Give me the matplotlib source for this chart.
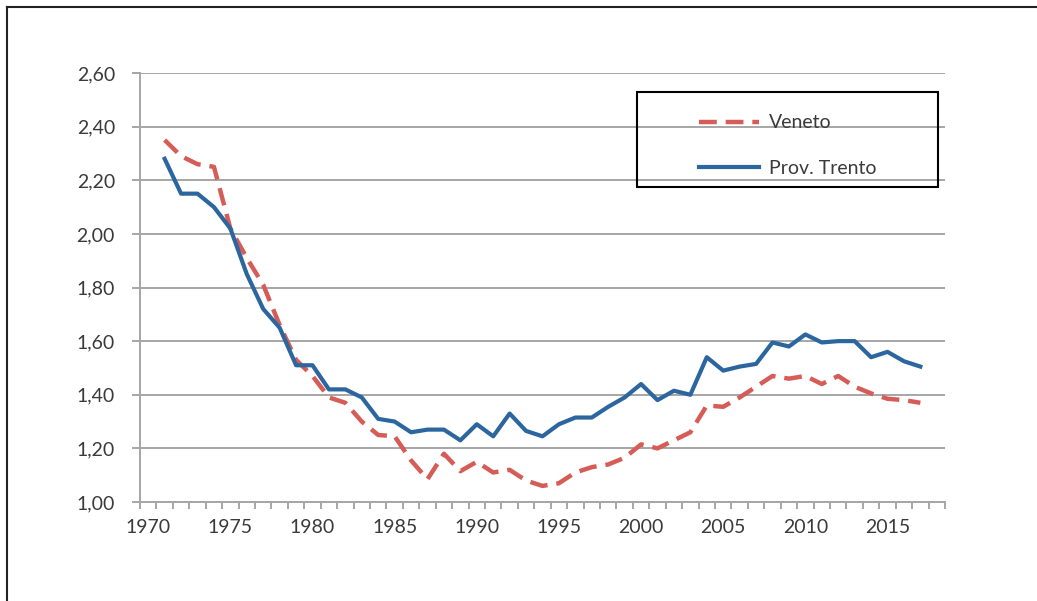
import matplotlib
matplotlib.use("Agg")
import matplotlib.pyplot as plt
from matplotlib.lines import Line2D
from matplotlib.patches import Rectangle
from matplotlib.ticker import FixedLocator

plt.rcParams['font.family'] = ['Lato', 'DejaVu Sans']

years = list(range(1971, 2018))

veneto = [2.35, 2.29, 2.26, 2.25, 2.02, 1.91, 1.81, 1.66, 1.53, 1.47,
          1.39, 1.37, 1.30, 1.25, 1.245, 1.155, 1.085, 1.18, 1.115, 1.15,
          1.11, 1.12, 1.08, 1.06, 1.07, 1.11, 1.13, 1.14, 1.165, 1.215,
          1.20, 1.23, 1.26, 1.36, 1.355, 1.39, 1.43, 1.47, 1.46, 1.47,
          1.44, 1.47, 1.43, 1.405, 1.385, 1.38, 1.37]

trento = [2.28, 2.15, 2.15, 2.10, 2.02, 1.85, 1.72, 1.65, 1.51, 1.51,
          1.42, 1.42, 1.39, 1.31, 1.30, 1.26, 1.27, 1.27, 1.23, 1.29,
          1.245, 1.33, 1.265, 1.245, 1.29, 1.315, 1.315, 1.355, 1.39, 1.44,
          1.38, 1.415, 1.40, 1.54, 1.49, 1.505, 1.515, 1.595, 1.58, 1.625,
          1.595, 1.60, 1.60, 1.54, 1.56, 1.525, 1.505]

y_ticks = [1.0, 1.2, 1.4, 1.6, 1.8, 2.0, 2.2, 2.4, 2.6]
x_labels = [1970, 1975, 1980, 1985, 1990, 1995, 2000, 2005, 2010, 2015]

grid_col = '#a6a6a6'
text_col = '#3a3a3a'

fig = plt.figure(figsize=(10.37, 6.01), dpi=100)
ax = fig.add_axes([140 / 1037, 1 - 502 / 601, 805 / 1037, 429 / 601])

ax.plot(years, veneto, color='#d65c58', lw=3.2, dashes=(4.0, 2.0),
        label='Veneto', zorder=3)
ax.plot(years, trento, color='#2c669e', lw=3.0, label='Prov. Trento',
        zorder=4)

ax.set_xlim(1969.5, 2018.5)
ax.set_ylim(1.0, 2.6)

ax.set_yticks(y_ticks)
ax.set_yticklabels([('%.2f' % v).replace('.', ',') for v in y_ticks])
ax.set_xticks(x_labels)
ax.set_xticklabels([str(v) for v in x_labels])
ax.xaxis.set_minor_locator(FixedLocator([1969.5 + i for i in range(50)]))

ax.yaxis.grid(True, color=grid_col, lw=1.4)
ax.set_axisbelow(True)

for s in ['top', 'right']:
    ax.spines[s].set_visible(False)
for s in ['left', 'bottom']:
    ax.spines[s].set_color(grid_col)
    ax.spines[s].set_linewidth(1.4)

ax.tick_params(axis='y', length=6, width=1.4, color=grid_col, pad=12,
               labelsize=14, labelcolor=text_col)
ax.tick_params(axis='x', which='major', length=0, pad=12,
               labelsize=14, labelcolor=text_col)
ax.tick_params(axis='x', which='minor', length=5, width=1.4,
               color=grid_col, direction='out')

# legend with a hand-drawn frame
ax.legend(loc='center', bbox_to_anchor=(0.7594, 0.758),
          bbox_transform=fig.transFigure, frameon=False, fontsize=14,
          handlelength=3.1, labelspacing=1.45, handletextpad=0.5,
          labelcolor=text_col)
fig.add_artist(Rectangle((637 / 1037, 1 - 187 / 601), 301 / 1037, 95 / 601,
                         transform=fig.transFigure, fill=False,
                         edgecolor='black', lw=1.5))

# outer frame (top and left only)
fig.add_artist(Line2D([7 / 1037, 1], [1 - 7 / 601, 1 - 7 / 601],
                      transform=fig.transFigure, color='#222222', lw=1.5))
fig.add_artist(Line2D([7 / 1037, 7 / 1037], [0, 1 - 7 / 601],
                      transform=fig.transFigure, color='#222222', lw=1.5))

fig.savefig('out.png', dpi=100)
